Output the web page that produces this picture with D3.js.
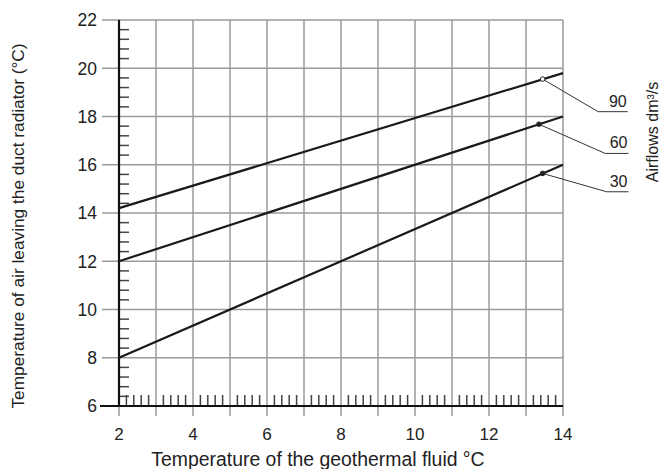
<!DOCTYPE html>
<html><head><meta charset="utf-8">
<script src="https://cdn.jsdelivr.net/npm/d3@7"></script>
<style>body{margin:0;background:#fff}svg{display:block}text{font-family:"Liberation Sans",Arial,sans-serif;fill:#222}</style>
</head><body><svg id="c" width="660" height="469"></svg>
<script>
// Data
const xTicks = [2,4,6,8,10,12,14];
const yTicks = [6,8,10,12,14,16,18,20,22];
const airflows = ["90","60","30"];
const startTemps = [14.2,12,8];      // at fluid 2 °C
const endTemps = [19.8,18,16];       // at fluid 14 °C
const fluidRange = [2,14];
const markerX = [13.45,13.35,13.45];
const markerY = [19.55,17.68,15.64];
const kneeX = [14.95,15.14,15.18];
const kneeY = [18.2,16.47,14.88];
const underlineEndX = [15.75,15.77,15.77];

const svg = d3.select("#c");
const x = d3.scaleLinear().domain([2,14]).range([119,563]);
const y = d3.scaleLinear().domain([6,22]).range([406,20]);

// vertical gridlines
svg.append("g").selectAll("line").data(d3.range(2,15)).join("line")
  .attr("x1",d=>x(d)).attr("x2",d=>x(d)).attr("y1",y(22)).attr("y2",y(6)+10)
  .attr("stroke","#9a9a9a").attr("stroke-width",1.5);
// horizontal gridlines
svg.append("g").selectAll("line").data(yTicks.filter(d=>d>6)).join("line")
  .attr("x1",102).attr("x2",x(14)).attr("y1",d=>y(d)).attr("y2",d=>y(d))
  .attr("stroke","#9a9a9a").attr("stroke-width",1.5);

// minor y ticks
const yMinor = d3.range(6,22.001,0.4).filter(v=>Math.abs(v/2-Math.round(v/2))>0.01);
svg.append("g").selectAll("line").data(yMinor).join("line")
  .attr("x1",x(2)).attr("x2",x(2)+10).attr("y1",d=>y(d)).attr("y2",d=>y(d))
  .attr("stroke","#444").attr("stroke-width",1.5);
// minor x ticks
const xMinor = d3.range(2,14.001,0.2).filter(v=>Math.abs(v-Math.round(v))>0.01);
svg.append("g").selectAll("line").data(xMinor).join("line")
  .attr("x1",d=>x(d)).attr("x2",d=>x(d)).attr("y1",y(6)).attr("y2",y(6)-11)
  .attr("stroke","#444").attr("stroke-width",1.5);

// axes lines
svg.append("line").attr("x1",x(2)).attr("x2",x(2)).attr("y1",y(22)).attr("y2",y(6))
  .attr("stroke","#111").attr("stroke-width",2.2);
svg.append("line").attr("x1",100).attr("x2",x(14)).attr("y1",y(6)).attr("y2",y(6))
  .attr("stroke","#111").attr("stroke-width",2.2);

// tick labels
svg.append("g").selectAll("text").data(yTicks).join("text")
  .attr("x",97).attr("y",d=>y(d)).attr("dy","0.36em").attr("text-anchor","end")
  .attr("font-size",17.5).text(d=>d);
svg.append("g").selectAll("text").data(xTicks).join("text")
  .attr("x",d=>x(d)).attr("y",440).attr("text-anchor","middle")
  .attr("font-size",17).text(d=>d);

// axis titles
svg.append("text").attr("x",318).attr("y",466).attr("text-anchor","middle")
  .attr("font-size",19.4).attr("fill","#333").text("Temperature of the geothermal fluid °C");
svg.append("text").attr("transform","translate(24,226) rotate(-90)").attr("text-anchor","middle")
  .attr("font-size",17.3).attr("fill","#333").text("Temperature of air leaving the duct radiator (°C)");
svg.append("text").attr("transform","translate(658,132) rotate(-90)").attr("text-anchor","middle")
  .attr("font-size",16).attr("fill","#333").text("Airflows dm³/s");

// lines
const line = d3.line().x(d=>x(d[0])).y(d=>y(d[1]));
airflows.forEach((a,i)=>{
  svg.append("path").datum([[fluidRange[0],startTemps[i]],[fluidRange[1],endTemps[i]]])
    .attr("d",line).attr("fill","none").attr("stroke","#1a1a1a").attr("stroke-width",2.2);
});
// leaders
airflows.forEach((a,i)=>{
  svg.append("path").datum([[markerX[i],markerY[i]],[kneeX[i],kneeY[i]],[underlineEndX[i],kneeY[i]]])
    .attr("d",line).attr("fill","none").attr("stroke","#333").attr("stroke-width",1);
  svg.append("circle").attr("cx",x(markerX[i])).attr("cy",y(markerY[i])).attr("r",2.3)
    .attr("fill",i===0?"#fff":"#222").attr("stroke","#222").attr("stroke-width",1);
  svg.append("text").attr("x",x(underlineEndX[i])-1).attr("y",y(kneeY[i])-5)
    .attr("text-anchor","end").attr("font-size",16).text(a);
});
</script></body></html>
